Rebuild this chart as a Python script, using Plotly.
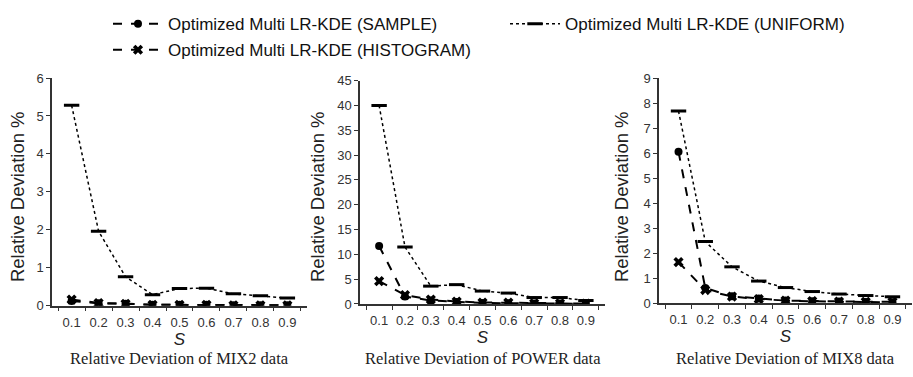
import plotly.graph_objects as go

S = ['0.1', '0.2', '0.3', '0.4', '0.5', '0.6', '0.7', '0.8', '0.9']

mix2_sample = [0.12, 0.06, 0.05, 0.02, 0.02, 0.02, 0.01, 0.01, 0.01]
mix2_uniform = [5.28, 1.96, 0.76, 0.29, 0.45, 0.46, 0.31, 0.26, 0.20]
mix2_hist = [0.16, 0.07, 0.05, 0.02, 0.02, 0.02, 0.01, 0.01, 0.01]

power_sample = [11.7, 1.5, 0.7, 0.4, 0.2, 0.15, 0.1, 0.1, 0.05]
power_uniform = [40.0, 11.5, 3.6, 3.9, 2.6, 2.2, 1.3, 1.3, 0.7]
power_hist = [4.6, 1.8, 0.9, 0.5, 0.3, 0.3, 0.15, 0.15, 0.1]

mix8_sample = [6.06, 0.6, 0.27, 0.18, 0.1, 0.07, 0.06, 0.04, 0.03]
mix8_uniform = [7.69, 2.46, 1.45, 0.88, 0.62, 0.46, 0.36, 0.30, 0.25]
mix8_hist = [1.64, 0.52, 0.26, 0.16, 0.1, 0.08, 0.06, 0.05, 0.05]

names = ['Optimized Multi LR-KDE (SAMPLE)',
         'Optimized Multi LR-KDE (UNIFORM)',
         'Optimized Multi LR-KDE (HISTOGRAM)']
captions = ['Relative Deviation of MIX2 data',
            'Relative Deviation of POWER data',
            'Relative Deviation of MIX8 data']
y_title = 'Relative Deviation %'
y_ranges = [[0, 6], [0, 45], [0, 9]]
y_dticks = [1, 5, 1]

panels = [
    (mix2_sample, mix2_uniform, mix2_hist),
    (power_sample, power_uniform, power_hist),
    (mix8_sample, mix8_uniform, mix8_hist),
]

W, H = 913, 377
x_px = [(52, 307), (360, 605), (659, 912)]
y_px = [(311, 74), (309.3, 76.7), (308.3, 74.3)]
ytitle_x = [17, 317, 621]

SANS = 'Liberation Sans, Arial, sans-serif'
SERIF = 'Liberation Serif, Times New Roman, serif'
AX = '#333333'

fig = go.Figure()

legends = ['legend', 'legend3', 'legend2']
for i, (samp, unif, hist) in enumerate(panels):
    xa = 'x' if i == 0 else f'x{i+1}'
    ya = 'y' if i == 0 else f'y{i+1}'
    show = i == 0
    fig.add_trace(go.Scatter(
        x=S, y=samp, xaxis=xa, yaxis=ya, name=names[0], mode='lines+markers',
        line=dict(color='black', width=2, dash='dash'),
        marker=dict(symbol='circle', size=8, color='black'),
        showlegend=show, legend=legends[0]))
    fig.add_trace(go.Scatter(
        x=S, y=unif, xaxis=xa, yaxis=ya, name=names[1], mode='lines+markers',
        line=dict(color='black', width=1.5, dash='dot'),
        marker=dict(symbol='line-ew', size=11, color='black',
                    line=dict(color='black', width=3)),
        showlegend=show, legend=legends[1]))
    fig.add_trace(go.Scatter(
        x=S, y=hist, xaxis=xa, yaxis=ya, name=names[2], mode='lines+markers',
        line=dict(color='black', width=2, dash='dash'),
        marker=dict(symbol='x', size=9, color='black'),
        showlegend=show, legend=legends[2]))

IW = 50
def leg(text_x, yc):
    return dict(orientation='h', x=(text_x - IW - 10) / W, y=1 - yc / H,
                xanchor='left', yanchor='middle', itemwidth=IW,
                font=dict(family=SANS, size=17, color='#111111'),
                bgcolor='rgba(0,0,0,0)', borderwidth=0)

layout = dict(
    width=W, height=H,
    margin=dict(l=0, r=0, t=0, b=0),
    paper_bgcolor='white', plot_bgcolor='white',
    font=dict(family=SANS, color='#222222', size=12),
    legend=leg(168, 18),
    legend3=leg(565, 18),
    legend2=leg(168, 45),
)

annotations = []
for i in range(3):
    xk = 'xaxis' if i == 0 else f'xaxis{i+1}'
    yk = 'yaxis' if i == 0 else f'yaxis{i+1}'
    x0, x1 = x_px[i]
    yb, yt = y_px[i]
    layout[xk] = dict(
        domain=[x0 / W, x1 / W], type='category', anchor='y' if i == 0 else f'y{i+1}',
        showline=True, linecolor=AX, linewidth=1.5, ticks='outside', ticklen=4,
        tickcolor=AX, tickson='boundaries', showgrid=False, zeroline=False,
        tickangle=0,
        tickfont=dict(family=SANS, size=13, color='#333333'),
        ticklabelstandoff=4,
        title=dict(text='<i>S</i>', font=dict(family=SANS, size=17, color='#222222'),
                   standoff=0),
        fixedrange=True)
    layout[yk] = dict(
        domain=[(H - yb) / H, (H - yt) / H], anchor='x' if i == 0 else f'x{i+1}',
        range=y_ranges[i], dtick=y_dticks[i], showline=True, linecolor=AX, linewidth=1.5,
        ticks='outside', ticklen=4, tickcolor=AX, showgrid=False, zeroline=False,
        tickfont=dict(family=SANS, size=13, color='#333333'),
        fixedrange=True)
    annotations.append(dict(
        text=y_title, textangle=-90, xref='paper', yref='paper',
        x=ytitle_x[i] / W, y=1 - 198 / H, xanchor='center', yanchor='middle',
        showarrow=False, font=dict(family=SANS, size=18.5, color='#222222')))
    annotations.append(dict(
        text=captions[i], xref='paper', yref='paper', x=(x0 + x1) / 2 / W,
        y=1 - 366 / H, xanchor='center', yanchor='middle', showarrow=False,
        font=dict(family=SERIF, size=16.5, color='#222222')))

layout['annotations'] = annotations
fig.update_layout(**layout)

fig.write_html('out.html')
